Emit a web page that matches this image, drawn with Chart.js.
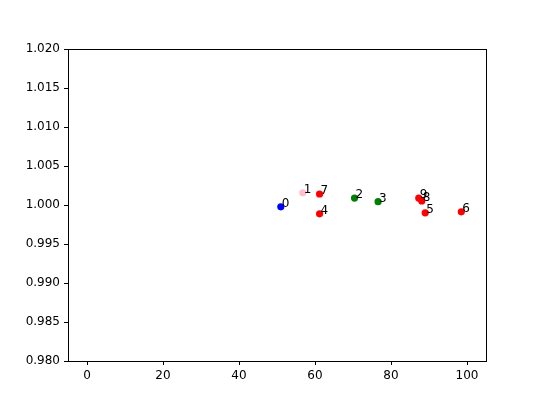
<!DOCTYPE html>
<html>
<head>
<meta charset="utf-8">
<script src="https://cdn.jsdelivr.net/npm/chart.js@4.4.0/dist/chart.umd.min.js"></script>
<style>
  html, body { margin: 0; padding: 0; background: #fff; }
  #wrap { width: 540px; height: 405px; }
</style>
</head>
<body>
<div id="wrap"><canvas id="myChart" width="540" height="405"></canvas></div>
<script>
// valores
const etiquetas = ['0', '1', '2', '3', '4', '5', '6', '7', '8', '9']
const valoresX = [51.0, 56.8, 70.4, 76.6, 61.2, 89.0, 98.5, 61.2, 88.1, 87.3]
const valoresY = [0.99977, 1.00157, 1.00089, 1.00042, 0.99887, 0.99900, 0.99913, 1.00141, 1.00051, 1.00089]
const colores = ['#0000ff', '#ffc0cb', '#008000', '#008000', '#ff0000', '#ff0000', '#ff0000', '#ff0000', '#ff0000', '#ff0000']
const ticksX = [0, 20, 40, 60, 80, 100]
const ticksY = [0.980, 0.985, 0.990, 0.995, 1.000, 1.005, 1.010, 1.015, 1.020]

const fuente = { family: 'DejaVu Sans', size: 12 }

// marco completo y numeros junto a cada punto
const extras = {
    id: 'extras',
    afterDatasetsDraw(chart) {
        const ctx = chart.ctx
        const area = chart.chartArea
        const sx = chart.scales.x
        const sy = chart.scales.y
        ctx.save()
        ctx.fillStyle = '#000'
        ctx.font = '12px "DejaVu Sans"'
        ctx.textAlign = 'left'
        ctx.textBaseline = 'alphabetic'
        etiquetas.forEach((txt, i) => {
            ctx.fillText(txt, sx.getPixelForValue(valoresX[i]) + 1, sy.getPixelForValue(valoresY[i]))
        })
        ctx.strokeStyle = '#000'
        ctx.lineWidth = 1
        ctx.strokeRect(Math.round(area.left) + 0.5, Math.round(area.top) + 0.5,
            Math.round(area.right - area.left), Math.round(area.bottom - area.top))
        ctx.restore()
    }
}

const datos = valoresX.map((x, i) => ({ x, y: valoresY[i] }))

const config = {
    type: 'scatter',
    data: {
        datasets: [
            {
                data: datos,
                backgroundColor: colores,
                borderColor: colores,
                pointRadius: 3.6,
                pointHoverRadius: 3.6,
                borderWidth: 0,
            },
        ],
    },
    options: {
        responsive: false,
        animation: false,
        events: [],
        layout: { padding: { top: 49, right: 54, left: 0, bottom: 0 } },
        plugins: { legend: { display: false }, tooltip: { enabled: false } },
        scales: {
            x: {
                type: 'linear',
                min: -5,
                max: 105,
                afterBuildTicks: (s) => { s.ticks = ticksX.map(v => ({ value: v })) },
                afterFit: (s) => { s.height = 44 },
                grid: { drawOnChartArea: false, tickLength: 4, color: '#000', tickWidth: 1 },
                border: { display: true, color: '#000' },
                ticks: { color: '#000', font: fuente, padding: 4, maxRotation: 0 },
            },
            y: {
                type: 'linear',
                min: 0.98,
                max: 1.02,
                afterBuildTicks: (s) => { s.ticks = ticksY.map(v => ({ value: v })) },
                afterFit: (s) => { s.width = 68 },
                grid: { drawOnChartArea: false, tickLength: 4, color: '#000', tickWidth: 1 },
                border: { display: true, color: '#000' },
                ticks: { color: '#000', font: fuente, padding: 4, callback: (v) => v.toFixed(3) },
            },
        },
    },
    plugins: [extras],
}

const ctx = document.getElementById('myChart').getContext('2d')
new Chart(ctx, config)
</script>
</body>
</html>
